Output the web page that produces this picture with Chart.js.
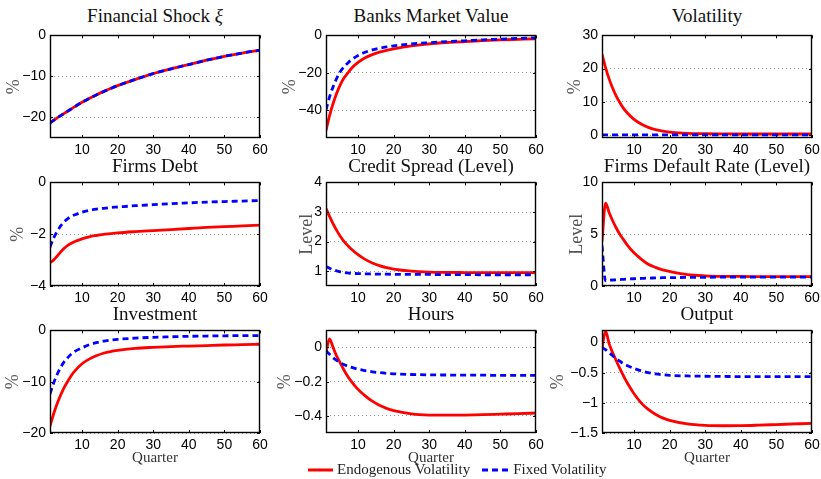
<!DOCTYPE html>
<html>
<head>
<meta charset="utf-8">
<script src="https://cdn.jsdelivr.net/npm/chart.js@4"></script>
<style>
  body { margin:0; background:#fff; width:821px; height:479px; position:relative; overflow:hidden; font-family:"Liberation Serif", serif; }
  .ttl { position:absolute; width:210px; text-align:center; font-size:19px; line-height:19px; white-space:nowrap; color:#111; }
  .pane { position:absolute; }
  .xlab { position:absolute; width:210px; text-align:center; font-size:15px; line-height:15px; color:#333; }
  #legend { position:absolute; left:306px; top:462px; font-size:15px; line-height:15px; display:flex; align-items:center; color:#222; }
  #legend svg { margin-right:3px; }
</style>
</head>
<body>
<script>
const quarters = [1,2,3,4,5,6,7,8,10,12,14,16,18,20,25,30,35,40,45,50,55,60];

const shockEndo  = [-21.3,-20.7,-20.1,-19.55,-19.0,-18.45,-17.9,-17.35,-16.3,-15.35,-14.5,-13.7,-12.95,-12.25,-10.7,-9.3,-8.15,-7.1,-6.05,-5.1,-4.3,-3.6];
const shockFixed = [-21.3,-20.7,-20.1,-19.55,-19.0,-18.45,-17.9,-17.35,-16.3,-15.35,-14.5,-13.7,-12.95,-12.25,-10.7,-9.3,-8.15,-7.1,-6.05,-5.1,-4.3,-3.6];

const bankEndo  = [-51,-43,-36.5,-31,-26.5,-23,-20.5,-18,-14.5,-12,-10.3,-9,-8,-7.2,-5.6,-4.5,-3.8,-3.3,-2.8,-2.4,-2.1,-1.8];
const bankFixed = [-40,-33,-27.5,-23,-19.5,-17,-15,-13.3,-10.8,-9,-7.8,-6.9,-6.2,-5.6,-4.6,-3.9,-3.3,-2.9,-2.4,-2.0,-1.6,-1.3];

const volEndo  = [24.4,20.3,16.9,14.1,11.7,9.8,8.1,6.8,4.7,3.3,2.3,1.6,1.2,0.9,0.5,0.38,0.33,0.3,0.3,0.3,0.3,0.3];
const volFixed = [0.05,0.05,0.05,0.05,0.05,0.05,0.05,0.05,0.05,0.05,0.05,0.05,0.05,0.05,0.05,0.05,0.05,0.05,0.05,0.05,0.05,0.05];

const debtEndo  = [-3.1,-3.0,-2.85,-2.68,-2.54,-2.43,-2.35,-2.28,-2.18,-2.1,-2.05,-2.01,-1.98,-1.95,-1.9,-1.86,-1.82,-1.78,-1.74,-1.71,-1.68,-1.65];
const debtFixed = [-2.5,-2.15,-1.9,-1.68,-1.52,-1.4,-1.31,-1.25,-1.15,-1.08,-1.03,-1.0,-0.97,-0.95,-0.9,-0.86,-0.82,-0.79,-0.76,-0.74,-0.72,-0.70];

const spreadEndo  = [3.12,2.85,2.6,2.38,2.18,2.02,1.88,1.76,1.56,1.4,1.28,1.19,1.12,1.07,1.0,0.97,0.96,0.955,0.95,0.95,0.95,0.95];
const spreadFixed = [1.16,1.1,1.05,1.01,0.98,0.96,0.94,0.93,0.92,0.91,0.905,0.9,0.9,0.895,0.89,0.89,0.885,0.885,0.88,0.88,0.88,0.88];

const defaultEndo  = [4.3,8.0,7.1,6.3,5.6,5.0,4.5,4.0,3.2,2.6,2.1,1.8,1.55,1.4,1.1,0.98,0.93,0.92,0.91,0.9,0.9,0.9];
const defaultFixed = [3.9,0.5,0.55,0.58,0.6,0.62,0.64,0.66,0.7,0.73,0.76,0.78,0.8,0.81,0.83,0.84,0.85,0.85,0.85,0.85,0.85,0.85];

const invEndo  = [-18.7,-16.3,-14.3,-12.6,-11.1,-9.9,-8.8,-7.9,-6.5,-5.6,-4.95,-4.45,-4.12,-3.9,-3.5,-3.3,-3.15,-3.05,-2.95,-2.85,-2.78,-2.7];
const invFixed = [-12.4,-10.3,-8.6,-7.2,-6.1,-5.3,-4.6,-4.1,-3.4,-2.8,-2.4,-2.1,-1.9,-1.75,-1.5,-1.35,-1.25,-1.15,-1.1,-1.05,-1.02,-1.0];

const hoursEndo  = [-0.03,0.05,0.0,-0.05,-0.09,-0.13,-0.165,-0.195,-0.245,-0.283,-0.314,-0.338,-0.356,-0.369,-0.388,-0.395,-0.396,-0.395,-0.393,-0.39,-0.387,-0.383];
const hoursFixed = [-0.02,-0.04,-0.06,-0.075,-0.088,-0.1,-0.108,-0.115,-0.127,-0.135,-0.142,-0.147,-0.151,-0.154,-0.158,-0.16,-0.161,-0.162,-0.162,-0.163,-0.163,-0.163];

const outputEndo  = [-0.1,0.19,-0.02,-0.17,-0.3,-0.43,-0.55,-0.66,-0.85,-1.0,-1.11,-1.19,-1.25,-1.29,-1.35,-1.375,-1.38,-1.378,-1.37,-1.36,-1.35,-1.34];
const outputFixed = [-0.08,-0.12,-0.17,-0.22,-0.27,-0.31,-0.35,-0.38,-0.43,-0.47,-0.5,-0.52,-0.535,-0.545,-0.555,-0.56,-0.563,-0.565,-0.565,-0.565,-0.565,-0.565];

// axis ticks
const xTicks = [10,20,30,40,50,60];
const shockTicks = [-20,-10,0];
const bankTicks = [-40,-20,0];
const volTicks = [0,10,20,30];
const debtTicks = [-4,-2,0];
const spreadTicks = [1,2,3,4];
const defaultTicks = [0,5,10];
const invTicks = [-20,-10,0];
const hoursTicks = [-0.4,-0.2,0];
const outputTicks = [-1.5,-1,-0.5,0];

const titles = ["Financial Shock <i>ξ</i>","Banks Market Value","Volatility","Firms Debt","Credit Spread (Level)","Firms Default Rate (Level)","Investment","Hours","Output"];
const yLabels = ["%","%","%","%","Level","Level","%","%","%"];
const seriesNames = ["Endogenous Volatility","Fixed Volatility"];

const panels = [
  { endo:shockEndo,   fixed:shockFixed,   ticks:shockTicks,   min:-25,  max:0,   lab:8 },
  { endo:bankEndo,    fixed:bankFixed,    ticks:bankTicks,    min:-55,  max:0,   lab:8 },
  { endo:volEndo,     fixed:volFixed,     ticks:volTicks,     min:-0.9, max:30,  lab:17 },
  { endo:debtEndo,    fixed:debtFixed,    ticks:debtTicks,    min:-4,   max:0,   lab:12 },
  { endo:spreadEndo,  fixed:spreadFixed,  ticks:spreadTicks,  min:0.5,  max:4,   lab:25 },
  { endo:defaultEndo, fixed:defaultFixed, ticks:defaultTicks, min:0,    max:10,  lab:19 },
  { endo:invEndo,     fixed:invFixed,     ticks:invTicks,     min:-20,  max:0,   lab:7 },
  { endo:hoursEndo,   fixed:hoursFixed,   ticks:hoursTicks,   min:-0.5, max:0.1, lab:3 },
  { endo:outputEndo,  fixed:outputFixed,  ticks:outputTicks,  min:-1.5, max:0.2, lab:0 }
];

// layout
const colLeft = [50, 326, 602];
const rowTop = [33, 180, 328];
const rowH = [105, 106, 105];
const titleTop = [6, 156, 304];
const PLOT_W = 210, Y_W = 55, PAD_T = 10, PAD_R = 12, X_H = 22;

const RED = "#ff0000", BLUE = "#0000ff";

function fmt(v){ return String(v).replace("-", "\u2212"); }

// black box + small inward ticks, matlab style
const framePlugin = {
  id: "frame",
  afterDraw(chart){
    const { ctx, chartArea:a, scales } = chart;
    ctx.save();
    ctx.strokeStyle = "#000";
    ctx.lineWidth = 1;
    ctx.beginPath();
    scales.x.ticks.forEach(t => {
      const px = Math.round(scales.x.getPixelForValue(t.value)) + 0.5;
      ctx.moveTo(px, a.bottom); ctx.lineTo(px, a.bottom - 3);
      ctx.moveTo(px, a.top); ctx.lineTo(px, a.top + 3);
    });
    scales.y.ticks.forEach(t => {
      const py = Math.round(scales.y.getPixelForValue(t.value)) + 0.5;
      ctx.moveTo(a.left, py); ctx.lineTo(a.left + 3, py);
      ctx.moveTo(a.right, py); ctx.lineTo(a.right - 3, py);
    });
    ctx.stroke();
    ctx.lineWidth = 1.4;
    ctx.strokeRect(Math.round(a.left) + 0.5, Math.round(a.top) + 0.5, Math.round(a.width) - 1, Math.round(a.height) - 1);
    ctx.restore();
  }
};

function pts(ys){ return quarters.map((q, k) => ({ x:q, y:ys[k] })); }

panels.forEach((p, i) => {
  const col = i % 3, row = Math.floor(i / 3);

  const t = document.createElement("div");
  t.className = "ttl";
  t.innerHTML = titles[i];
  t.style.left = colLeft[col] + "px";
  t.style.top = titleTop[row] + "px";
  document.body.appendChild(t);

  const box = document.createElement("div");
  box.className = "pane";
  box.style.left = (colLeft[col] - Y_W) + "px";
  box.style.top = (rowTop[row] - PAD_T) + "px";
  const cv = document.createElement("canvas");
  cv.width = Y_W + PLOT_W + PAD_R;
  cv.height = PAD_T + rowH[row] + X_H;
  box.appendChild(cv);
  document.body.appendChild(box);

  new Chart(cv, {
    type: "line",
    data: {
      datasets: [
        { label: seriesNames[1], data: pts(p.fixed), borderColor: BLUE, borderWidth: 2.8, borderDash: [6, 4], pointRadius: 0, fill: false, cubicInterpolationMode: "monotone" },
        { label: seriesNames[0], data: pts(p.endo), borderColor: RED, borderWidth: 2.8, pointRadius: 0, fill: false, cubicInterpolationMode: "monotone" }
      ]
    },
    options: {
      responsive: false,
      animation: false,
      layout: { padding: { top: PAD_T, right: PAD_R, left: 0, bottom: 0 } },
      plugins: { legend: { display: false }, tooltip: { enabled: false } },
      scales: {
        x: {
          type: "linear", min: 1, max: 60,
          afterBuildTicks: s => { s.ticks = xTicks.map(v => ({ value: v })); },
          afterFit: s => { s.height = X_H; },
          grid: { display: false, drawTicks: false },
          border: { display: false },
          ticks: { padding: 4, color: "#000", maxRotation: 0, font: { family: "'Liberation Sans', Arial, sans-serif", size: 14 } }
        },
        y: {
          min: p.min, max: p.max,
          afterBuildTicks: s => { s.ticks = p.ticks.map(v => ({ value: v })); },
          afterFit: s => { s.width = Y_W; },
          grid: { color: "#9a9a9a", lineWidth: 1, drawTicks: false },
          border: { display: false, dash: [1, 3] },
          ticks: { padding: 4, color: "#000", callback: v => fmt(v), font: { family: "'Liberation Sans', Arial, sans-serif", size: 14 } },
          title: { display: true, text: yLabels[i], color: "#555", padding: { top: p.lab, bottom: 0 }, font: { family: "'Liberation Serif', serif", size: 18 } }
        }
      }
    },
    plugins: [framePlugin]
  });

  if (row === 2) {
    const xl = document.createElement("div");
    xl.className = "xlab";
    xl.textContent = "Quarter";
    xl.style.left = colLeft[col] + "px";
    xl.style.top = "450px";
    document.body.appendChild(xl);
  }
});

// legend
const lg = document.createElement("div");
lg.id = "legend";
lg.innerHTML =
  '<svg width="28" height="6"><line x1="2" y1="3" x2="27" y2="3" stroke="' + RED + '" stroke-width="3"/></svg>' +
  '<span style="margin-right:12px">' + seriesNames[0] + '</span>' +
  '<svg width="28" height="6"><line x1="0" y1="3" x2="27" y2="3" stroke="' + BLUE + '" stroke-width="3" stroke-dasharray="6 4"/></svg>' +
  '<span>' + seriesNames[1] + '</span>';
document.body.appendChild(lg);
</script>
</body>
</html>
